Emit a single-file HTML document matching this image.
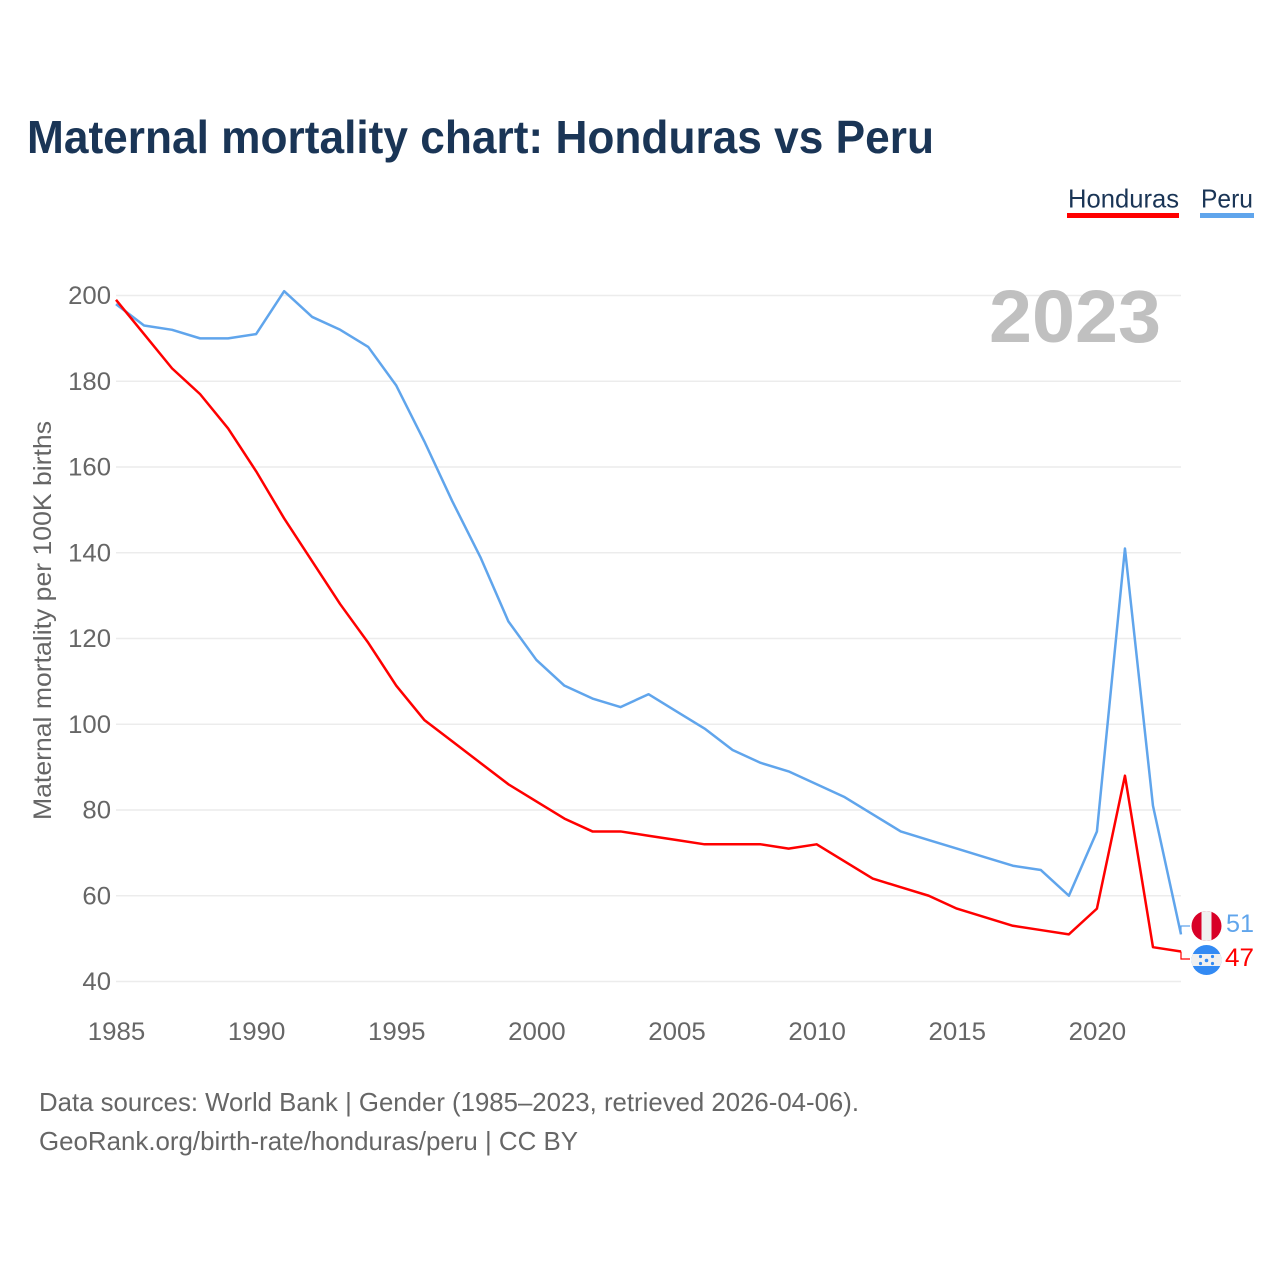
<!DOCTYPE html>
<html lang="en">
<head>
<meta charset="utf-8">
<title>Maternal mortality chart: Honduras vs Peru</title>
<style>
html,body{margin:0;padding:0;background:#fff;width:1280px;height:1280px;overflow:hidden}
svg{display:block}
text{font-family:"Liberation Sans",sans-serif}
</style>
</head>
<body>
<svg id="chart" width="1280" height="1280" viewBox="0 0 1280 1280" xmlns="http://www.w3.org/2000/svg">
  <defs>
    <clipPath id="clip-peru"><circle cx="1206.5" cy="926" r="15"/></clipPath>
    <clipPath id="clip-honduras"><circle cx="1206.5" cy="960" r="15"/></clipPath>
  </defs>
  <rect width="1280" height="1280" fill="#fff"/>
  <text x="27" y="153" font-size="46" font-weight="700" fill="#1a3556" textLength="907" lengthAdjust="spacingAndGlyphs">Maternal mortality chart: Honduras vs Peru</text>

  <g>
    <g>
      <text x="1068" y="207.5" font-size="26" fill="#1a3556" textLength="111" lengthAdjust="spacingAndGlyphs">Honduras</text>
      <rect x="1067" y="213" width="112" height="5" fill="#ff0000"/>
    </g>
    <g>
      <text x="1201" y="207.5" font-size="26" fill="#1a3556" textLength="52" lengthAdjust="spacingAndGlyphs">Peru</text>
      <rect x="1200" y="213" width="54" height="5" fill="#60a5ec"/>
    </g>
  </g>

  <g id="grid"></g>
  <g id="yticks"></g>
  <g id="xticks"></g>
  <text transform="translate(51,620.5) rotate(-90)" text-anchor="middle" font-size="25" fill="#666" textLength="399" lengthAdjust="spacingAndGlyphs">Maternal mortality per 100K births</text>
  <text x="1161" y="342" text-anchor="end" font-size="74" font-weight="700" fill="#c0c0c0" textLength="172" lengthAdjust="spacingAndGlyphs">2023</text>

  <g id="series"></g>

  <g clip-path="url(#clip-peru)">
    <rect x="1191" y="910" width="31" height="32" fill="#d80027"/>
    <rect x="1201.5" y="910" width="10" height="32" fill="#f0f0f0"/>
  </g>
  <g clip-path="url(#clip-honduras)">
    <rect x="1191" y="944" width="31" height="32" fill="#338af3"/>
    <rect x="1191" y="954" width="31" height="12" fill="#f0f0f0"/>
    <g fill="#338af3" font-size="7" text-anchor="middle">
      <circle cx="1206.5" cy="960.5" r="1.8"/>
      <circle cx="1200.5" cy="956.5" r="1.6"/>
      <circle cx="1212.5" cy="956.5" r="1.6"/>
      <circle cx="1200.5" cy="963.5" r="1.6"/>
      <circle cx="1212.5" cy="963.5" r="1.6"/>
    </g>
  </g>
  <g id="endlabels"></g>

  <g>
    <text x="39" y="1111" font-size="26" fill="#666" textLength="820" lengthAdjust="spacingAndGlyphs">Data sources: World Bank | Gender (1985–2023, retrieved 2026-04-06).</text>
    <text x="39" y="1150" font-size="26" fill="#666" textLength="539" lengthAdjust="spacingAndGlyphs">GeoRank.org/birth-rate/honduras/peru | CC BY</text>
  </g>
</svg>
<script>
const years = [1985,1986,1987,1988,1989,1990,1991,1992,1993,1994,1995,1996,1997,1998,1999,2000,2001,2002,2003,2004,2005,2006,2007,2008,2009,2010,2011,2012,2013,2014,2015,2016,2017,2018,2019,2020,2021,2022,2023];
const hondurasValues = [199,191,183,177,169,159,148,138,128,119,109,101,96,91,86,82,78,75,75,74,73,72,72,72,71,72,68,64,62,60,57,55,53,52,51,57,88,48,47];
const peruValues = [198,193,192,190,190,191,201,195,192,188,179,166,152,139,124,115,109,106,104,107,103,99,94,91,89,86,83,79,75,73,71,69,67,66,60,75,141,81,51];
const yTickValues = [40,60,80,100,120,140,160,180,200];
const xTickValues = [1985,1990,1995,2000,2005,2010,2015,2020];

const NS = 'http://www.w3.org/2000/svg';
function xScale(year){ return 116 + (year - 1985) * (1181 - 116) / (2023 - 1985); }
function yScale(v){ return 981.5 - (v - 40) * (981.5 - 295.5) / (200 - 40); }
function make(tag, attrs, parent, txt){
  const el = document.createElementNS(NS, tag);
  for (const k in attrs) el.setAttribute(k, attrs[k]);
  if (txt !== undefined) el.textContent = txt;
  parent.appendChild(el);
  return el;
}
const grid = document.getElementById('grid');
const yticks = document.getElementById('yticks');
const xticks = document.getElementById('xticks');
const series = document.getElementById('series');
const endlabels = document.getElementById('endlabels');

yTickValues.forEach(function(v){
  const line = make('line', {x1:116, x2:1181, y1:yScale(v), y2:yScale(v), stroke:'#ececec', 'stroke-width':1.5}, grid);
  
  
  const label = make('text', {x:111, y:yScale(v) + 8.5, 'text-anchor':'end', 'font-size':25, fill:'#666', textLength:String(v).length * 14.3, lengthAdjust:'spacingAndGlyphs'}, yticks, v);
  
  
});
xTickValues.forEach(function(y){
  const label = make('text', {x:xScale(y) + 0.5, y:1040, 'text-anchor':'middle', 'font-size':25, fill:'#666', textLength:57.5, lengthAdjust:'spacingAndGlyphs'}, xticks, y);
  
  
});
function linePoints(values){
  return values.map(function(v, i){ return xScale(years[i]).toFixed(2) + ',' + yScale(v).toFixed(2); }).join(' ');
}
const peruLine = make('polyline', {points:linePoints(peruValues), fill:'none', stroke:'#60a5ec', 'stroke-width':2.5, 'stroke-linejoin':'round'}, series);


const hondurasLine = make('polyline', {points:linePoints(hondurasValues), fill:'none', stroke:'#ff0000', 'stroke-width':2.5, 'stroke-linejoin':'round'}, series);



const lastX = xScale(years[years.length - 1]);
const peruLast = peruValues[peruValues.length - 1];
const hondurasLast = hondurasValues[hondurasValues.length - 1];

const peruConn = make('polyline', {points:lastX + ',' + yScale(peruLast) + ' ' + lastX + ',926 1190,926', fill:'none', stroke:'#60a5ec', 'stroke-width':1.2}, endlabels);


const hondurasConn = make('polyline', {points:lastX + ',' + yScale(hondurasLast) + ' ' + lastX + ',959 1190,959', fill:'none', stroke:'#ff0000', 'stroke-width':1.2}, endlabels);



const peruVal = make('text', {x:1226, y:932, 'font-size':25, fill:'#60a5ec', textLength:28, lengthAdjust:'spacingAndGlyphs'}, endlabels, peruLast);


const hondurasVal = make('text', {x:1225, y:966, 'font-size':25, fill:'#ff0000', textLength:29, lengthAdjust:'spacingAndGlyphs'}, endlabels, hondurasLast);


</script>
</body>
</html>
